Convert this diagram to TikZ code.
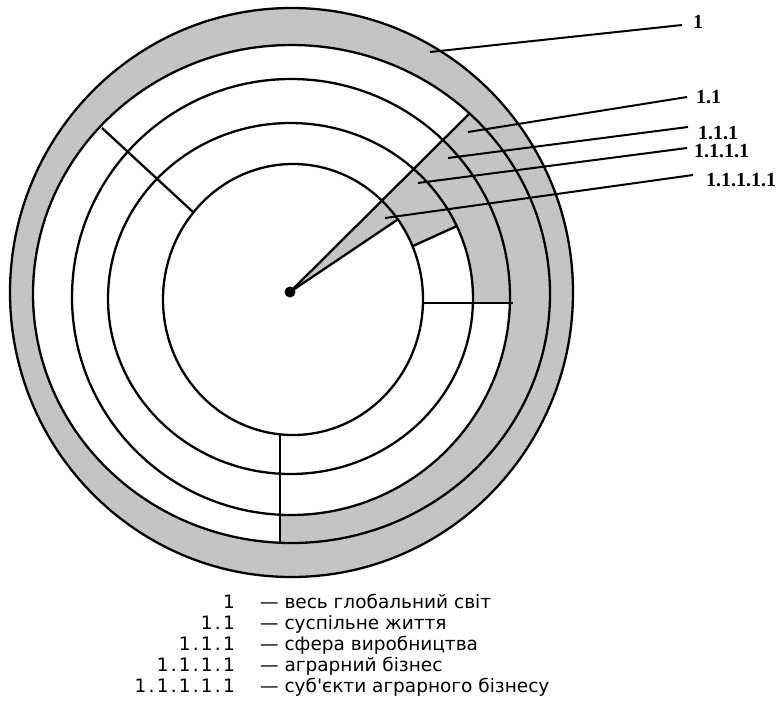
\documentclass[tikz,border=0pt]{standalone}
\usepackage{fontspec}
\setmainfont{DejaVu Sans}
\newfontfamily\tagfont{Liberation Serif}
\newfontfamily\numfont[LetterSpace=12]{DejaVu Sans}
\usepackage{xcolor}
\definecolor{ringgray}{HTML}{C4C4C4}
\newcommand{\Tag}{\tagfont\bfseries\fontsize{20}{22}\selectfont}
\newcommand{\Legend}{\fontsize{18.5}{21}\selectfont}
\tikzset{
  ring1/.style={x radius=130,y radius=135.5},
  ring2/.style={x radius=182.5,y radius=175.5},
  ring3/.style={x radius=219,y radius=218},
  ring4/.style={x radius=258.5,y radius=249},
  ring5/.style={x radius=281.5,y radius=284.5},
}

\begin{document}
\begin{tikzpicture}[x=1pt,y=1pt,line width=2.3pt]
  \useasboundingbox (0,0) rectangle (782,-710);
  % ring centres
  \foreach \k/\cx/\cy in {1/293/-299.5, 2/290.5/-298.5, 3/291/-297, 4/291.5/-294, 5/291.5/-292.5}{
    \coordinate (e\k) at (\cx,\cy);
  }
  \coordinate (o) at (290,-292);
  % grey parts
  \fill[ringgray,even odd rule] (e5) ellipse[ring5] (e4) ellipse[ring4];
  \begin{scope}
    \clip (o) -- (690,108) -- (900,108) -- (900,-800) -- (280,-800) -- (280,-292) -- cycle;
    \fill[ringgray,even odd rule] (e4) ellipse[ring4] (e3) ellipse[ring3];
  \end{scope}
  \begin{scope}
    \clip (o) -- (690,108) -- (900,108) -- (900,-303) -- (290,-303) -- cycle;
    \fill[ringgray,even odd rule] (e3) ellipse[ring3] (e2) ellipse[ring2];
  \end{scope}
  \begin{scope}
    \clip (o) -- (690,108) -- (897,-26) -- (303,-296) -- cycle;
    \fill[ringgray,even odd rule] (e2) ellipse[ring2] (e1) ellipse[ring1];
  \end{scope}
  \begin{scope}
    \clip (e1) ellipse[ring1];
    \fill[ringgray] (o) -- (474,-108) -- (504,-148) -- cycle;
  \end{scope}
  % rings
  \foreach \k in {1,...,5}{
    \draw (e\k) ellipse[ring\k];
  }
  % dividing lines
  \coordinate (a4) at (470,-113);
  \coordinate (w1) at (397,-220);
  \coordinate (b1) at (413,-246);
  \coordinate (b2) at (457,-226);
  \coordinate (h1) at (423,-303);
  \coordinate (h3) at (513,-303);
  \coordinate (v1) at (280,-435);
  \coordinate (v4) at (280,-543);
  \coordinate (t4) at (102,-128);
  \coordinate (t1) at (193,-212);
  \foreach \p/\q in {o/a4, o/w1, b1/b2, h1/h3, v1/v4, t4/t1}{
    \draw (\p) -- (\q);
  }
  \fill (o) circle[radius=5.5];
  % leaders and tags
  \foreach \i/\tx/\ty/\ex/\ey/\lx/\ly/\txt in {
      1/430/-52/682/-25/692/-22/1,
      2/468/-132/687/-97/695/-97/1.1,
      3/448/-158/688/-127/697/-133/1.1.1,
      4/418/-183/687/-148/693/-151/1.1.1.1,
      5/385/-218/693/-175/705/-180/1.1.1.1.1}{
    \coordinate (tip\i) at (\tx,\ty);
    \coordinate (end\i) at (\ex,\ey);
    \node[anchor=west, inner sep=0pt, font=\Tag] (tag\i) at (\lx,\ly) {\txt};
    \draw[line width=2pt] (tip\i) -- (end\i);
  }
  % legend
  \foreach \n/\txt [count=\k] in {1/весь глобальний світ, 1.1/суспільне життя,
      1.1.1/сфера виробництва, 1.1.1.1/аграрний бізнес,
      1.1.1.1.1/суб\textquotesingle єкти аграрного бізнесу}{
    \node[anchor=base east, inner sep=0pt, font=\Legend\numfont] (num\k) at (236,{-608-21*(\k-1)}) {\n};
    \node[anchor=base west, inner sep=0pt, font=\Legend] (txt\k) at (259,{-608-21*(\k-1)}) {— \txt};
  }
\end{tikzpicture}
\end{document}
